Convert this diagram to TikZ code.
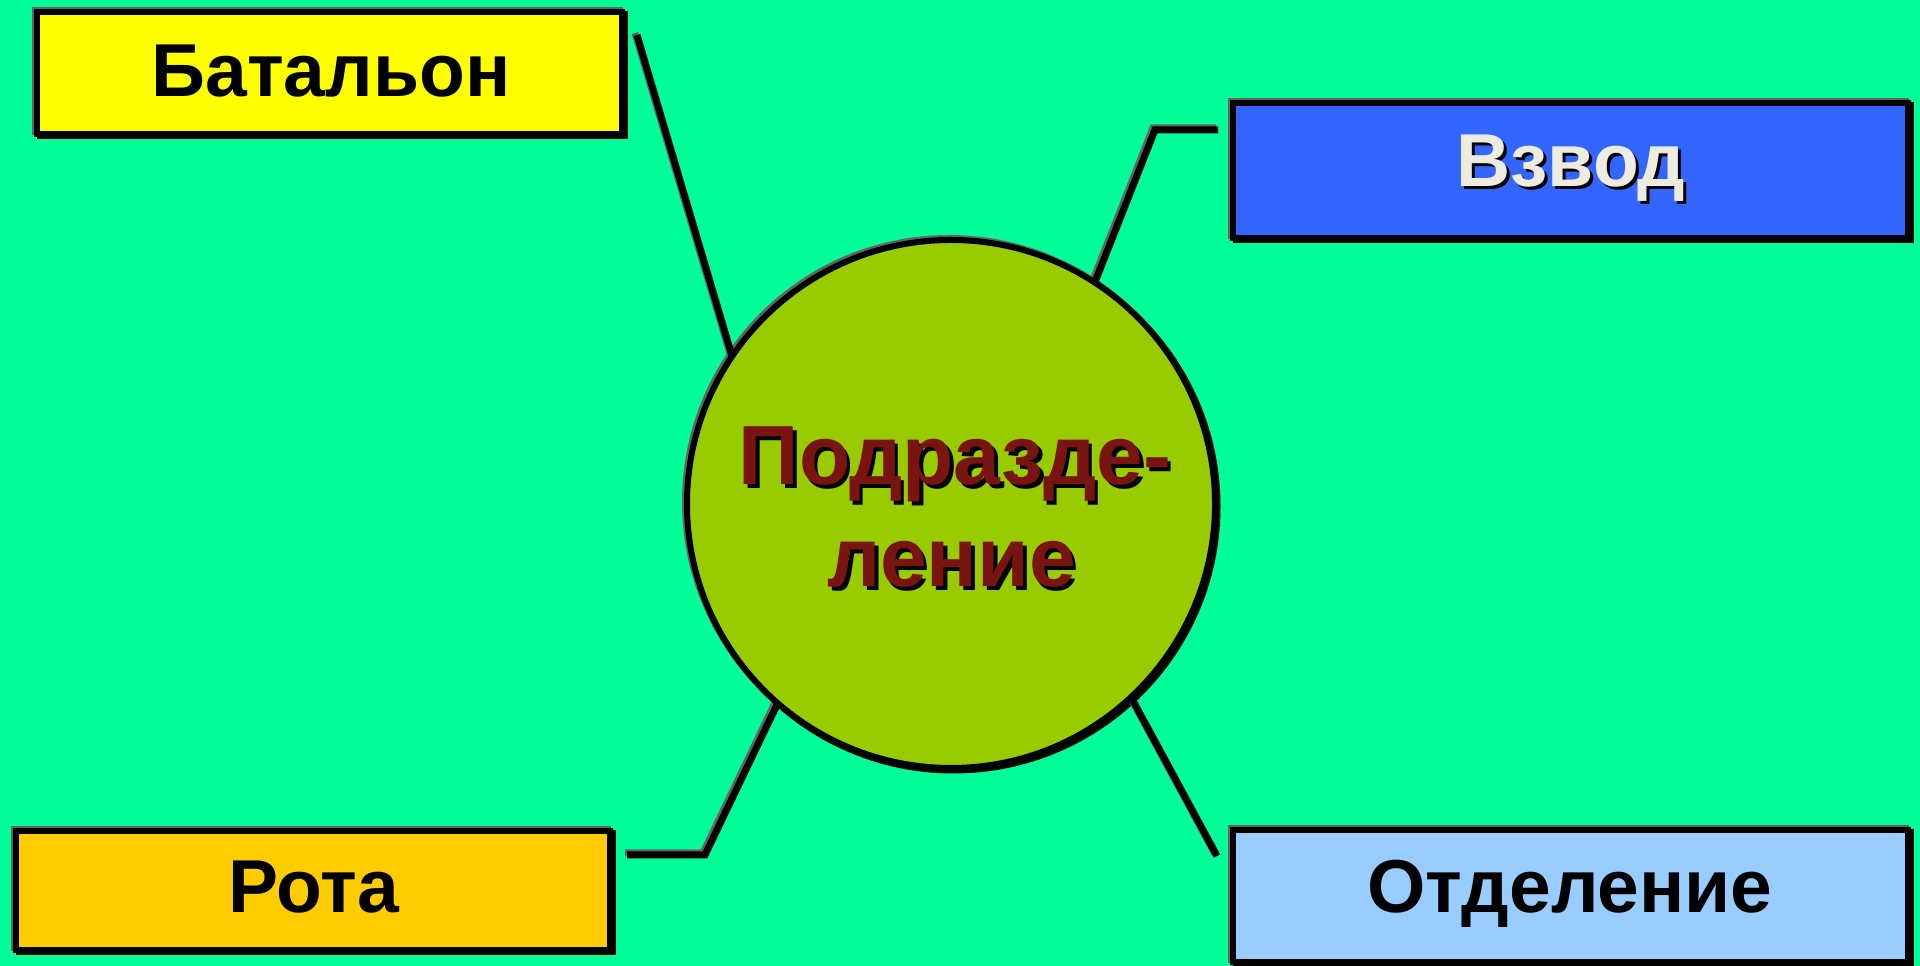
\documentclass[tikz,border=0pt]{standalone}
\usepackage{fontspec}
\setmainfont{Liberation Sans}
\usetikzlibrary{calc}
\pgfdeclarelayer{bglayer}
\pgfdeclarelayer{shlayer}
\pgfsetlayers{bglayer,shlayer,main}
\definecolor{bgc}{RGB}{0,255,153}
\definecolor{circc}{RGB}{153,204,0}
\definecolor{batc}{RGB}{255,255,0}
\definecolor{rotac}{RGB}{255,204,0}
\definecolor{vzc}{RGB}{51,102,255}
\definecolor{otdc}{RGB}{153,204,255}
\definecolor{redtxt}{RGB}{122,20,16}
\definecolor{whtxt}{RGB}{238,236,225}
\definecolor{shgray}{RGB}{100,100,100}
\tikzset{
  boxnode/.style={draw=black, line width=6pt, inner sep=0pt, outer sep=0pt, rectangle},
  boxtxt/.style={anchor=base, inner sep=0pt, font=\bfseries\fontsize{75}{90}\selectfont},
  circtxt/.style={anchor=base, inner sep=0pt, font=\bfseries\fontsize{84}{100}\selectfont},
  conn/.style={draw=black, line width=7pt, line join=miter},
  connsh/.style={draw=shgray, line width=7pt, line join=miter},
}
\begin{document}
\begin{tikzpicture}[x=1pt,y=1pt]
\begin{pgfonlayer}{bglayer}
\fill[bgc] (0,0) rectangle (1920,966);
\end{pgfonlayer}
\useasboundingbox (0,0) rectangle (1920,966);

% boxes
\node[boxnode, fill=batc, minimum width=585pt, minimum height=122pt] (bat) at (329.5,893) {};
\node[boxnode, fill=vzc, minimum width=675pt, minimum height=135pt] (vz) at (1570.5,795.5) {};
\node[boxnode, fill=rotac, minimum width=594pt, minimum height=119pt] (rota) at (313,75.5) {};
\node[boxnode, fill=otdc, minimum width=675pt, minimum height=132pt] (otd) at (1570.5,70) {};

% circle
\node[draw=black, line width=6pt, fill=circc, circle, minimum size=528pt, inner sep=0pt, outer sep=0pt] (c) at (951,462) {};

% shadows of boxes and circle
\begin{pgfonlayer}{shlayer}
\foreach \n in {bat,vz,rota,otd}{
  \draw[black, line width=6pt] ([shift={(2.5,-2.5)}]\n.north west) rectangle ([shift={(2.5,-2.5)}]\n.south east);
  \draw[shgray, line width=6pt] ([shift={(-2,2)}]\n.north west) rectangle ([shift={(-2,2)}]\n.south east);
}
\draw[black, line width=6pt] ([shift={(2.5,-2.5)}]c.center) circle (264pt);
\draw[shgray, line width=6pt] ([shift={(-2,2)}]c.center) circle (264pt);
\end{pgfonlayer}

% connector end points
\coordinate (b1) at (637,931);
\coordinate (v1) at (1218,836);
\coordinate (v2) at (1155,836);
\coordinate (r1) at (627,111);
\coordinate (r2) at (705,111);
\coordinate (o1) at (1217,110);

% connector shadows
\begin{pgfonlayer}{shlayer}
\draw[connsh, transform canvas={shift={(-2,2)}}] (b1) -- (c.146.5);
\draw[connsh, transform canvas={shift={(-2,2)}}] (v1) -- (v2) -- (c.57.5);
\draw[connsh, transform canvas={shift={(-2,2)}}] (r1) -- (r2) -- (c.229.8);
\draw[connsh, transform canvas={shift={(-2,2)}}] (c.-47.6) -- (o1);
\end{pgfonlayer}

% connectors
\draw[conn] (b1) -- (c.146.5);
\draw[conn] (v1) -- (v2) -- (c.57.5);
\draw[conn] (r1) -- (r2) -- (c.229.8);
\draw[conn] (c.-47.6) -- (o1);

% texts
\node[boxtxt, text=black] (tbat) at (331,869) {Батальон};
\node[boxtxt, text=black] (tvzs) at (1574,776) {Взвод};
\node[boxtxt, text=whtxt] (tvz) at (1571,779) {Взвод};
\node[boxtxt, text=black] (trota) at (314,53) {Рота};
\node[boxtxt, text=black] (totd) at (1570,53) {Отделение};

\node[circtxt, text=black] (tc1s) at (958.5,477.5) {Подразде-};
\node[circtxt, text=redtxt] (tc1) at (955,481) {Подразде-};
\node[circtxt, text=black] (tc2s) at (955.5,375.5) {ление};
\node[circtxt, text=redtxt] (tc2) at (952,379) {ление};
\end{tikzpicture}
\end{document}
